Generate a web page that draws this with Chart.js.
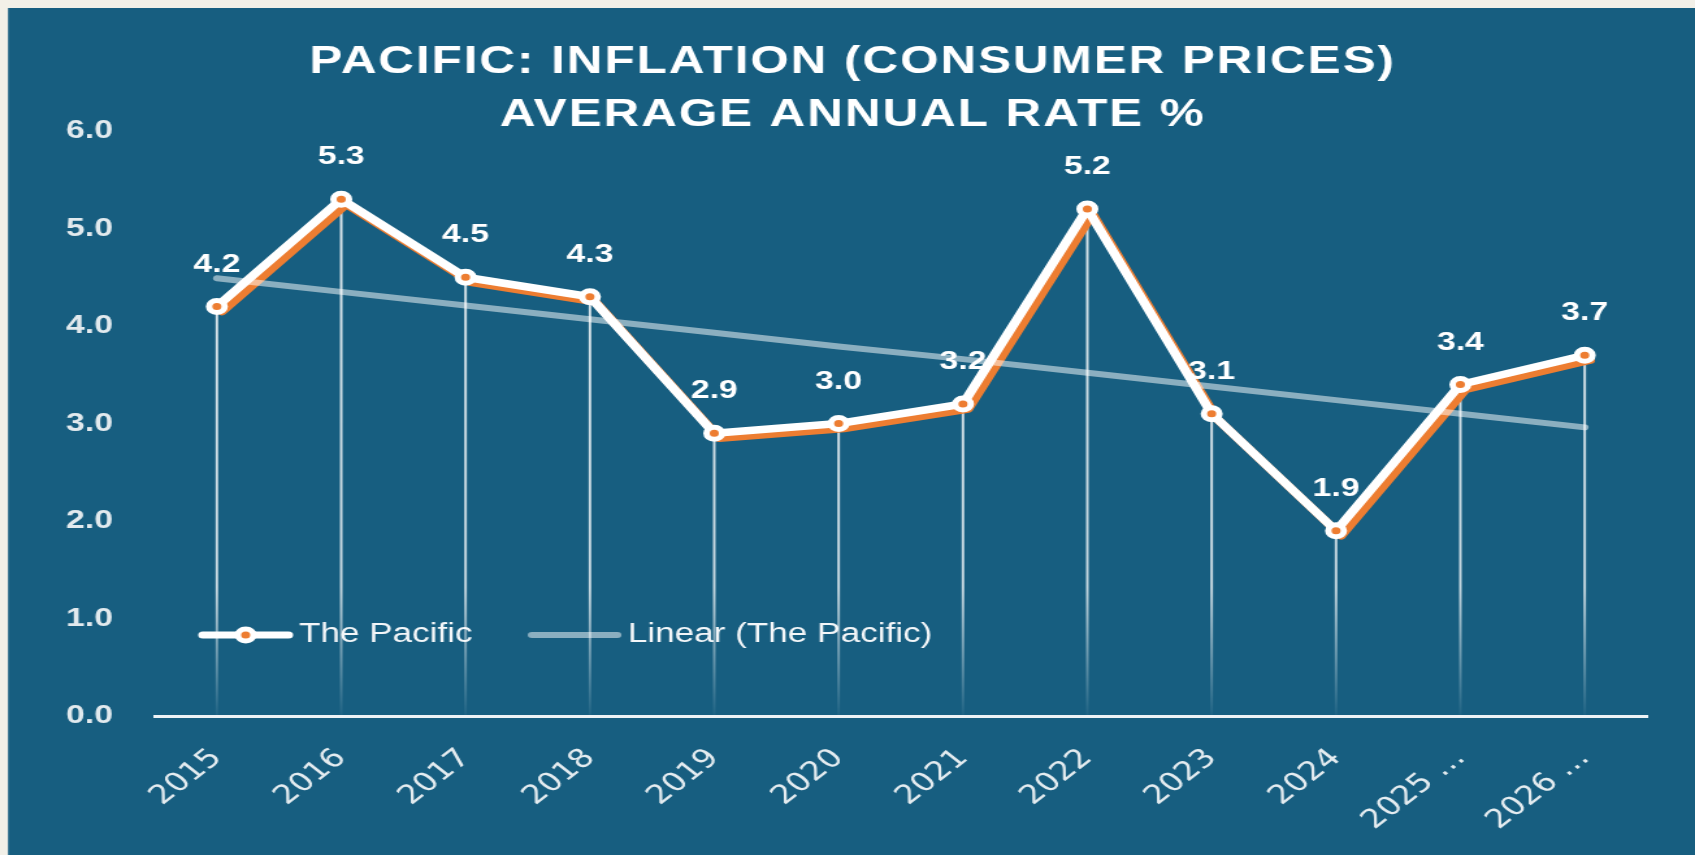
<!DOCTYPE html>
<html>
<head>
<meta charset="utf-8">
<script src="https://cdn.jsdelivr.net/npm/chart.js@4.4.1/dist/chart.umd.min.js"></script>
<style>
  html, body { margin: 0; padding: 0; background: #f2f0e8; overflow: hidden; }
  /* the reference is horizontally stretched, so draw narrow and stretch */
  #wrap { position: absolute; left: 0; top: 0; width: 1304px; height: 855px; transform: scaleX(1.29985); transform-origin: 0 0; }
</style>
</head>
<body>
<div id="wrap"><canvas id="chart" width="1304" height="855"></canvas></div>
<script>
const years = ['2015', '2016', '2017', '2018', '2019', '2020', '2021', '2022', '2023', '2024', '2025 …', '2026 …'];
const inflation = [4.2, 5.3, 4.5, 4.3, 2.9, 3.0, 3.2, 5.2, 3.1, 1.9, 3.4, 3.7];
const trend = [4.49, 4.35, 4.21, 4.07, 3.93, 3.79, 3.66, 3.52, 3.38, 3.24, 3.10, 2.96];
const yMin = 0, yMax = 6, yStep = 1;

const BLUE = '#175e80';
const BEIGE = '#f2f0e8';
const ORANGE = '#ed7d31';
const TREND = 'rgba(255, 255, 255, 0.5)';

function sample(draw) {
  const c = document.createElement('canvas');
  c.width = 74;
  c.height = 24;
  draw(c.getContext('2d'));
  return c;
}

const pacificSample = sample(g => {
  g.strokeStyle = '#fff';
  g.lineWidth = 7;
  g.lineCap = 'round';
  g.beginPath(); g.moveTo(4, 12); g.lineTo(70, 12); g.stroke();
  g.beginPath(); g.arc(37, 12, 6, 0, Math.PI * 2);
  g.fillStyle = ORANGE; g.fill();
  g.lineWidth = 5; g.stroke();
});

const trendSample = sample(g => {
  g.strokeStyle = TREND;
  g.lineWidth = 6;
  g.lineCap = 'round';
  g.beginPath(); g.moveTo(4, 12); g.lineTo(70, 12); g.stroke();
});

const panel = {
  id: 'panel',
  beforeDraw(chart) {
    const {ctx, width, height} = chart;
    ctx.save();
    ctx.fillStyle = BEIGE;
    ctx.fillRect(0, 0, width, height);
    ctx.fillStyle = BLUE;
    ctx.fillRect(6.2, 8, width, height);
    ctx.restore();
  },
  afterLayout(chart) {
    // legend sits inside the plot, low on the left
    const lg = chart.legend;
    lg.left = 110.5;
    lg.right = 1267;
    lg.top = 570.5;
    lg.bottom = 700;
    lg.width = lg.right - lg.left;
    lg.height = lg.bottom - lg.top;

    // title is centred a little right of the plot centre, with spaced letters
    const t = chart.titleBlock;
    t.left = 45;
    t.right = 1267;
    t.width = t.right - t.left;
    if (!t._spaced) {
      const draw = t.draw.bind(t);
      t.draw = (...rest) => {
        t.ctx.save();
        t.ctx.letterSpacing = '1.5px';
        draw(...rest);
        t.ctx.restore();
      };
      t._spaced = true;
    }
  }
};

const dropLines = {
  id: 'dropLines',
  beforeDatasetsDraw(chart) {
    const {ctx, chartArea} = chart;
    const y0 = chart.scales.y.getPixelForValue(0);
    const g = ctx.createLinearGradient(0, chartArea.top, 0, y0);
    g.addColorStop(0, 'rgba(255,255,255,0.85)');
    g.addColorStop(0.78, 'rgba(255,255,255,0.75)');
    g.addColorStop(1, 'rgba(255,255,255,0.03)');
    ctx.save();
    ctx.strokeStyle = g;
    ctx.lineWidth = 2;
    chart.getDatasetMeta(0).data.forEach(p => {
      ctx.beginPath();
      ctx.moveTo(p.x, p.y);
      ctx.lineTo(p.x, y0);
      ctx.stroke();
    });
    ctx.restore();
  }
};

const lineShadow = {
  id: 'lineShadow',
  beforeDatasetDraw(chart, args) {
    if (args.index !== 0) return;
    const ctx = chart.ctx;
    ctx.save();
    ctx.shadowColor = ORANGE;
    ctx.shadowOffsetX = 4;
    ctx.shadowOffsetY = 5;
    ctx.shadowBlur = 0;
  },
  afterDatasetDraw(chart, args) {
    if (args.index === 0) chart.ctx.restore();
  }
};

const valueLabels = {
  id: 'valueLabels',
  afterDatasetDraw(chart, args) {
    if (args.index !== 1) return;
    const ctx = chart.ctx;
    ctx.save();
    ctx.fillStyle = '#ffffff';
    ctx.font = 'bold 26px "Liberation Sans", Arial, sans-serif';
    ctx.textAlign = 'center';
    ctx.textBaseline = 'middle';
    args.meta.data.forEach((p, i) => {
      ctx.fillText(inflation[i].toFixed(1), p.x, p.y - 42);
    });
    ctx.restore();
  }
};

const chart = new Chart(document.getElementById('chart'), {
  type: 'line',
  data: {
    labels: years,
    datasets: [{
      label: 'The Pacific',
      data: inflation,
      borderColor: '#ffffff',
      borderWidth: 7.5,
      borderJoinStyle: 'round',
      borderCapStyle: 'round',
      pointRadius: 0,
      order: 2
    }, {
      label: 'markers',
      data: inflation,
      showLine: false,
      pointRadius: 6,
      pointBorderWidth: 5,
      pointBorderColor: '#ffffff',
      pointBackgroundColor: ORANGE,
      order: 1
    }, {
      label: 'Linear (The Pacific)',
      data: trend,
      borderColor: TREND,
      borderWidth: 6,
      borderCapStyle: 'round',
      pointRadius: 0,
      order: 0
    }]
  },
  options: {
    responsive: false,
    animation: false,
    events: [],
    layout: {padding: {left: 0, right: 37, top: 0, bottom: 0}},
    plugins: {
      title: {
        display: true,
        text: ['PACIFIC: INFLATION (CONSUMER PRICES)', 'AVERAGE ANNUAL RATE %'],
        color: '#ffffff',
        font: {family: '"Liberation Sans", Arial, sans-serif', weight: 'bold', size: 38, lineHeight: '53px'},
        padding: {top: 36.5, bottom: -11.5}
      },
      legend: {
        position: 'bottom',
        align: 'start',
        maxHeight: 1,
        labels: {
          usePointStyle: true,
          pointStyleWidth: 55,
          boxHeight: 27,
          padding: 51,
          color: '#f4f7f9',
          font: {family: '"Liberation Sans", Arial, sans-serif', size: 27, lineHeight: 1},
          filter: item => item.datasetIndex !== 1,
          sort: (a, b) => a.datasetIndex - b.datasetIndex,
          generateLabels: c => Chart.defaults.plugins.legend.labels.generateLabels(c).map(l => {
            l.pointStyle = l.datasetIndex === 0 ? pacificSample : trendSample;
            return l;
          })
        }
      },
      tooltip: {enabled: false}
    },
    scales: {
      x: {
        offset: true,
        grid: {display: false, drawTicks: false},
        border: {display: true, color: '#eef3f6', width: 3},
        ticks: {
          color: '#e4ecf0',
          font: {family: '"DejaVu Sans", sans-serif', size: 26},
          minRotation: 45,
          maxRotation: 45,
          autoSkip: false,
          padding: 27
        },
        afterFit: s => { s.height = 138; }
      },
      y: {
        min: yMin,
        max: yMax,
        grid: {display: false, drawTicks: false},
        border: {display: false},
        ticks: {
          stepSize: yStep,
          color: '#e2eaee',
          font: {family: '"Liberation Sans", Arial, sans-serif', weight: 'bold', size: 26},
          padding: 32,
          callback: v => v.toFixed(1)
        },
        afterFit: s => { s.width = 119; }
      }
    }
  },
  plugins: [panel, dropLines, lineShadow, valueLabels]
});
</script>
</body>
</html>
